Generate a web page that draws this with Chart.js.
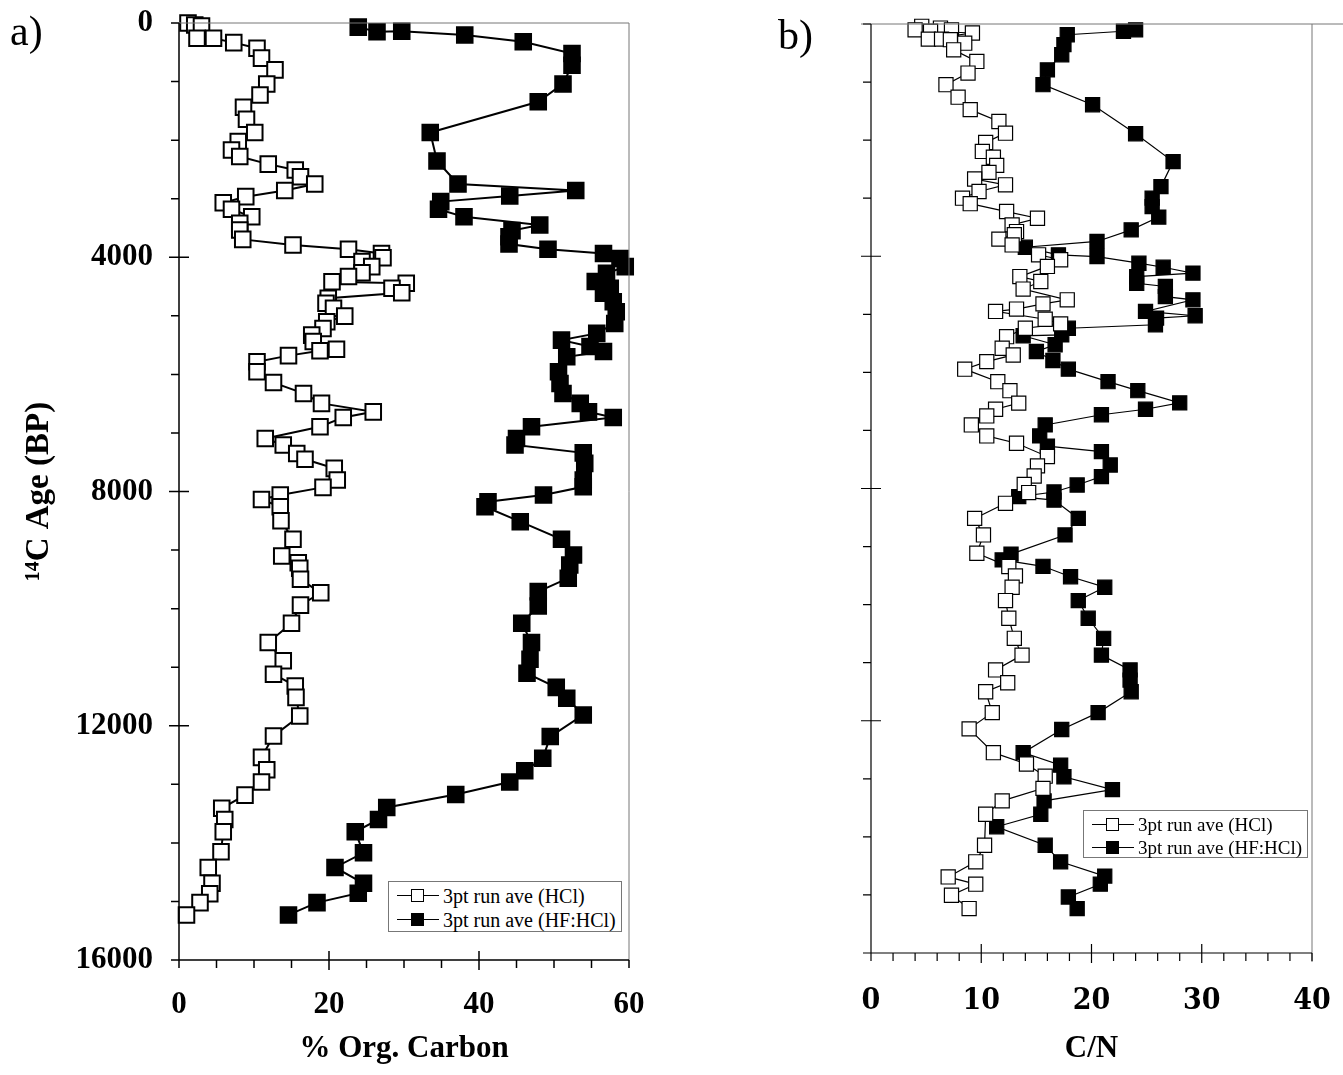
<!DOCTYPE html>
<html>
<head>
<meta charset="utf-8">
<script src="https://cdn.jsdelivr.net/npm/chart.js@4.4.1/dist/chart.umd.min.js"></script>
<style>
  body { margin:0; width:1343px; height:1075px; background:#fff; position:relative; overflow:hidden; font-family:'Liberation Serif', serif; }
  canvas { position:absolute; top:0; }
  .lab { position:absolute; font-size:42px; color:#000; line-height:1; }
  .leg { position:absolute; border:1px solid #777; background:#fff; box-sizing:border-box; padding-top:2px; }
  .row { height:23px; line-height:23px; font-size:19px; color:#000; white-space:nowrap; }
  #legA .row { font-size:20px; height:24px; line-height:24px; }
  .key { display:inline-block; position:relative; width:42px; height:23px; vertical-align:top; margin:0 4px 0 8px; }
  .key i { position:absolute; left:0; right:0; top:11px; border-top:1.5px solid #000; }
  .key b { position:absolute; left:14px; top:5px; width:11px; height:11px; border:1.5px solid #000; background:#fff; }
  .key b.fill { background:#000; }
</style>
</head>
<body>
<canvas id="chartA" width="660" height="1075" style="left:0"></canvas>
<canvas id="chartB" width="673" height="1075" style="left:670px"></canvas>
<div class="lab" style="left:10px;top:10px">a)</div>
<div class="lab" style="left:778px;top:14px">b)</div>
<div class="leg" id="legA" style="left:388px;top:881px;width:234px;height:51px"></div>
<div class="leg" id="legB" style="left:1083px;top:810px;width:225px;height:48px"></div>
<script>
// series names
var seriesNames = ["3pt run ave (HCl)", "3pt run ave (HF:HCl)"];

// panel a) % organic carbon, 3pt running average on HCl treated sediment
var ageA_HCl = [0, 35, 50, 260, 260, 335, 430, 600, 800, 1040, 1230, 1440, 1645, 1870, 2025, 2170, 2280, 2410, 2510, 2625,
  2750, 2860, 2965, 3070, 3180, 3310, 3420, 3535, 3695, 3790, 3865, 3935, 4010, 4075, 4160, 4265, 4330, 4420, 4445, 4530,
  4605, 4700, 4785, 4870, 5005, 5100, 5215, 5330, 5440, 5570, 5595, 5680, 5785, 5955, 6140, 6325, 6495, 6640, 6735, 6895,
  7095, 7205, 7350, 7450, 7605, 7805, 7930, 8060, 8135, 8260, 8500, 8815, 9100, 9215, 9310, 9500, 9730, 9940, 10250, 10580,
  10890, 11120, 11320, 11515, 11835, 12175, 12540, 12750, 12960, 13185, 13410, 13600, 13810, 14150, 14420, 14690, 14870, 15020, 15230];
var orgC_HCl = [1.2, 2.1, 3.0, 2.4, 4.6, 7.3, 10.4, 11.0, 12.8, 11.7, 10.8, 8.6, 9.0, 10.1, 7.9, 7.0, 8.1, 11.9, 15.5, 16.2,
  18.1, 14.1, 8.9, 5.9, 7.0, 9.7, 8.1, 8.1, 8.5, 15.2, 22.6, 27.0, 27.2, 24.4, 25.7, 24.4, 22.6, 20.4, 30.3, 28.4,
  29.7, 19.9, 19.6, 20.6, 22.1, 19.7, 19.2, 17.7, 17.9, 21.0, 18.8, 14.6, 10.4, 10.4, 12.6, 16.6, 19.0, 25.9, 21.9, 18.8,
  11.5, 13.9, 15.7, 16.8, 20.7, 21.1, 19.2, 13.5, 11.0, 13.5, 13.6, 15.2, 13.7, 15.9, 16.1, 16.2, 18.9, 16.2, 15.0, 11.9,
  13.9, 12.6, 15.5, 15.6, 16.1, 12.6, 11.0, 11.7, 11.0, 8.8, 5.7, 6.1, 5.9, 5.6, 3.9, 4.4, 4.1, 2.8, 1.0];

// panel a) % organic carbon, HF:HCl treated
var ageA_HF = [70, 150, 140, 205, 320, 520, 720, 1040, 1345, 1870, 2355, 2750, 2860, 2955, 3050, 3180, 3310, 3450, 3545, 3650,
  3775, 3865, 3935, 4020, 4160, 4275, 4415, 4530, 4615, 4760, 4930, 5130, 5300, 5415, 5525, 5610, 5700, 5955, 6155, 6325,
  6495, 6640, 6735, 6895, 7095, 7205, 7340, 7520, 7805, 7920, 8060, 8175, 8260, 8515, 8815, 9085, 9255, 9480, 9710, 9955,
  10250, 10580, 10865, 11105, 11345, 11530, 11815, 12185, 12555, 12770, 12960, 13175, 13395, 13600, 13810, 14170, 14420, 14690, 14860, 15020, 15230];
var orgC_HF = [23.9, 26.4, 29.7, 38.1, 45.9, 52.4, 52.4, 51.2, 47.9, 33.5, 34.4, 37.2, 52.9, 44.1, 34.9, 34.6, 38.0, 48.1, 44.4, 44.0,
  44.0, 49.2, 56.6, 58.8, 59.5, 57.0, 55.5, 57.5, 56.6, 57.9, 58.3, 58.1, 55.7, 51.0, 54.8, 56.6, 51.7, 50.6, 50.8, 51.2,
  53.5, 54.6, 57.9, 47.0, 45.0, 44.8, 53.9, 54.1, 53.9, 53.9, 48.6, 41.2, 40.8, 45.5, 51.0, 52.6, 52.1, 51.9, 47.9, 47.9,
  45.7, 47.0, 46.8, 46.4, 50.3, 51.7, 53.9, 49.5, 48.5, 46.1, 44.1, 36.9, 27.7, 26.6, 23.5, 24.6, 20.8, 24.6, 23.9, 18.4, 14.6];

// panel b) C/N, HCl treated
var ageB_HCl = [40, 70, 100, 100, 125, 155, 260, 260, 270, 330, 445, 645, 845, 1045, 1260, 1475, 1680, 1880, 2040, 2195,
  2295, 2435, 2555, 2670, 2770, 2885, 3000, 3095, 3230, 3345, 3460, 3575, 3630, 3705, 3805, 3975, 4060, 4175, 4350, 4435,
  4565, 4750, 4820, 4910, 4950, 5085, 5165, 5240, 5385, 5585, 5700, 5815, 5945, 6160, 6315, 6530, 6635, 6750, 6905, 7095,
  7220, 7450, 7610, 7785, 7930, 8070, 8255, 8515, 8800, 9115, 9345, 9505, 9700, 9930, 10235, 10580, 10870, 11125, 11345, 11500,
  11860, 12140, 12550, 12745, 12955, 13165, 13380, 13610, 14145, 14430, 14690, 14815, 15005, 15235];
var cn_HCl = [4.6, 6.3, 4.0, 7.3, 5.4, 9.2, 5.2, 6.4, 7.2, 8.5, 7.5, 9.6, 8.8, 6.8, 7.9, 9.0, 11.6, 12.2, 10.4, 10.1,
  11.1, 11.4, 10.7, 9.4, 12.2, 9.8, 8.3, 9.0, 12.3, 15.1, 12.8, 13.2, 13.0, 11.6, 12.8, 15.2, 17.2, 16.0, 13.5, 15.4,
  13.8, 17.8, 15.6, 13.2, 11.3, 15.8, 17.2, 14.0, 12.3, 11.9, 12.9, 10.5, 8.5, 11.5, 12.6, 13.4, 11.3, 10.5, 9.1, 10.5,
  13.2, 16.0, 15.1, 14.8, 13.9, 14.3, 12.2, 9.4, 10.2, 9.6, 12.5, 13.1, 12.8, 12.2, 12.5, 13.0, 13.7, 11.3, 12.4, 10.4,
  11.0, 8.9, 11.1, 14.1, 15.8, 15.6, 11.9, 10.4, 10.3, 9.5, 7.0, 9.5, 7.3, 8.9];

// panel b) C/N, HF:HCl treated
var ageB_HF = [100, 125, 185, 355, 530, 790, 1045, 1390, 1890, 2370, 2800, 3000, 3145, 3325, 3545, 3745, 3845, 3975, 4005, 4120,
  4190, 4290, 4350, 4465, 4520, 4695, 4750, 4950, 5025, 5065, 5180, 5240, 5355, 5370, 5525, 5640, 5795, 5945, 6160, 6315,
  6525, 6635, 6730, 6905, 7095, 7270, 7365, 7595, 7795, 7940, 8060, 8140, 8200, 8515, 8800, 9130, 9230, 9340, 9520, 9700,
  9930, 10235, 10580, 10870, 11125, 11300, 11500, 11860, 12150, 12550, 12765, 12965, 13185, 13380, 13610, 13825, 14145, 14430, 14675, 14815,
  15035, 15235];
var cn_HF = [24.0, 22.9, 17.8, 17.5, 17.3, 16.0, 15.6, 20.1, 24.0, 27.4, 26.3, 25.5, 25.5, 26.1, 23.6, 20.5, 14.0, 17.0, 20.5, 24.3,
  26.5, 29.2, 24.1, 24.1, 26.7, 26.7, 29.2, 24.9, 29.4, 25.9, 25.8, 17.9, 17.3, 13.8, 16.7, 15.0, 16.5, 17.9, 21.5, 24.2,
  28.0, 24.9, 20.9, 15.8, 15.3, 16.0, 20.9, 21.7, 20.9, 18.7, 16.6, 13.4, 16.6, 18.8, 17.6, 12.7, 11.9, 15.6, 18.1, 21.2,
  18.8, 19.7, 21.1, 20.9, 23.5, 23.5, 23.6, 20.6, 17.3, 13.8, 17.2, 17.5, 21.9, 15.7, 15.4, 11.4, 15.8, 17.2, 21.2, 20.8,
  17.9, 18.7];

function pairs(ages, vals) {
  return ages.map(function(a, i) { return { x: vals[i], y: a }; });
}

// frame + inside/outside tick marks like the original plotting package
var frameTicks = {
  id: 'frameTicks',
  afterDatasetsDraw: function(chart, args, o) {
    var ctx = chart.ctx, a = chart.chartArea, x = chart.scales.x, y = chart.scales.y;
    ctx.save();
    ctx.strokeStyle = '#777';
    ctx.lineWidth = 1;
    ctx.beginPath();
    ctx.moveTo(a.left - (o.topExtL || 0), a.top);
    ctx.lineTo(a.right + (o.topExtR || 0), a.top);
    ctx.moveTo(a.right, a.top);
    ctx.lineTo(a.right, a.bottom + (o.rightExt || 0));
    ctx.stroke();
    ctx.strokeStyle = '#000';
    ctx.lineWidth = o.axisWidth;
    ctx.beginPath();
    ctx.moveTo(a.left, a.top);
    ctx.lineTo(a.left, a.bottom);
    ctx.lineTo(a.right, a.bottom);
    var v, p, major;
    for (v = x.min; v <= x.max; v += o.xStep) {
      p = x.getPixelForValue(v);
      major = v % o.xMajor === 0 && v !== x.min && v !== x.max;
      ctx.moveTo(p, major ? a.bottom - 9 : a.bottom);
      ctx.lineTo(p, a.bottom + (major ? 10 : 8));
    }
    for (v = y.min; v <= y.max; v += o.yStep) {
      p = y.getPixelForValue(v);
      major = v % o.yMajor === 0 && v !== y.min && v !== y.max;
      ctx.moveTo(a.left - (major ? 10 : 8), p);
      ctx.lineTo(major ? a.left + 10 : a.left, p);
    }
    ctx.stroke();
    ctx.restore();
  }
};

// keep the plot box where the original has it: drop the label overhang padding
function noOverhang(s) {
  s.paddingTop = 0; s.paddingBottom = 0; s.paddingLeft = 0; s.paddingRight = 0;
}

function makeChart(id, cfg) {
  var tickFont = { family: cfg.tickFamily, weight: 'bold', size: cfg.tickSize };
  return new Chart(document.getElementById(id), {
    type: 'scatter',
    data: {
      datasets: [
        { label: seriesNames[0], data: cfg.hcl, showLine: true, borderColor: '#000', borderWidth: cfg.lineWidth,
          pointStyle: 'rect', pointRadius: cfg.radius, pointBorderWidth: cfg.pointBorder,
          pointBackgroundColor: '#fff', pointBorderColor: '#000', tension: 0, clip: false },
        { label: seriesNames[1], data: cfg.hf, showLine: true, borderColor: '#000', borderWidth: cfg.lineWidth,
          pointStyle: 'rect', pointRadius: cfg.radius, pointBorderWidth: cfg.pointBorder,
          pointBackgroundColor: '#000', pointBorderColor: '#000', tension: 0, clip: false }
      ]
    },
    options: {
      responsive: false,
      animation: false,
      layout: { padding: { left: 0, top: cfg.top, right: cfg.right, bottom: 0 } },
      plugins: {
        legend: { display: false },
        tooltip: { enabled: false },
        frameTicks: cfg.ticks
      },
      scales: {
        x: {
          type: 'linear', min: 0, max: cfg.xMax,
          grid: { display: false, drawTicks: false }, border: { display: false },
          ticks: { stepSize: cfg.xLabelStep, color: '#000', font: tickFont, padding: cfg.xPad, maxRotation: 0,
            callback: function(v) { return String(v); } },
          title: { display: true, text: cfg.xTitle, color: '#000',
            font: { family: 'Liberation Serif', weight: 'bold', size: 31 }, padding: { top: 0, bottom: 7 } },
          afterFit: function(s) { s.height = cfg.xHeight; noOverhang(s); }
        },
        y: {
          type: 'linear', reverse: true, min: 0, max: 16000,
          grid: { display: false, drawTicks: false }, border: { display: false },
          ticks: { display: cfg.yLabels, stepSize: 4000, color: '#000', font: tickFont, padding: 26,
            callback: function(v) { return String(v); } },
          title: { display: cfg.yLabels, text: '\u00B9\u2074C Age (BP)', color: '#000',
            font: { family: 'Liberation Serif', weight: 'bold', size: 33 }, padding: { top: 20, bottom: 0 } },
          afterFit: function(s) { s.width = cfg.yWidth; noOverhang(s); }
        }
      }
    },
    plugins: [frameTicks]
  });
}

makeChart('chartA', {
  hcl: pairs(ageA_HCl, orgC_HCl), hf: pairs(ageA_HF, orgC_HF),
  xMax: 60, xLabelStep: 20, xTitle: '% Org. Carbon', xPad: 26, xHeight: 115,
  yWidth: 179, yLabels: true, top: 23, right: 31,
  tickFamily: 'Liberation Serif', tickSize: 31,
  lineWidth: 2, radius: 11, pointBorder: 2,
  ticks: { xStep: 5, xMajor: 20, yStep: 1000, yMajor: 4000, axisWidth: 1.5 }
});

makeChart('chartB', {
  hcl: pairs(ageB_HCl, cn_HCl), hf: pairs(ageB_HF, cn_HF),
  xMax: 40, xLabelStep: 10, xTitle: 'C/N', xPad: 30, xHeight: 122,
  yWidth: 201, yLabels: false, top: 24, right: 31,
  tickFamily: "'DejaVu Serif Condensed', 'Liberation Serif'", tickSize: 30,
  lineWidth: 1.2, radius: 10, pointBorder: 1.2,
  ticks: { xStep: 2, xMajor: 10, yStep: 1000, yMajor: 4000, axisWidth: 1.2, topExtL: 10, topExtR: 40, rightExt: 9 }
});

// html legends
function fillLegend(id) {
  var box = document.getElementById(id);
  seriesNames.forEach(function(name, i) {
    var row = document.createElement('div');
    row.className = 'row';
    row.innerHTML = '<span class="key"><i></i><b class="' + (i ? 'fill' : '') + '"></b></span>' + name;
    box.appendChild(row);
  });
}
fillLegend('legA');
fillLegend('legB');
</script>
</body>
</html>
